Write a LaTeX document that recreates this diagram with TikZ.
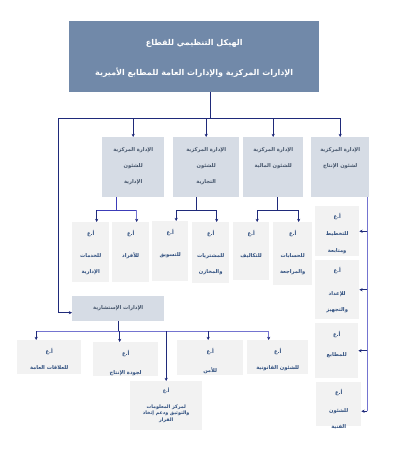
\documentclass[tikz,border=0pt]{standalone}
\usepackage{fontspec}
\usetikzlibrary{arrows.meta}
\TeXXeTstate=1
\newfontfamily\arf[Script=Arabic]{DejaVu Sans}
\newcommand\ar[1]{\leavevmode\beginR#1\endR}
\definecolor{titlefill}{HTML}{7189A9}
\definecolor{lvltwo}{HTML}{D6DCE5}
\definecolor{lvlthree}{HTML}{F2F2F2}
\definecolor{txttwo}{HTML}{44546A}
\definecolor{txtthree}{HTML}{2F4F7F}
\definecolor{navy}{HTML}{1F2A7A}
\definecolor{lav}{HTML}{7474D0}
\definecolor{midblue}{HTML}{3C3CB8}
% name, style, x1, y1, x2, y2, top padding, text
\newcommand\obox[8]{%
  \pgfmathsetmacro\obw{#5-#3}\pgfmathsetmacro\obh{#6-#4}%
  \node[#2,anchor=north west,inner sep=0pt] (#1) at (#3,#4)
    {\parbox[t][\obh pt][t]{\obw pt}{\centering\vspace*{#7pt}#8}};}
\begin{document}
\begin{tikzpicture}[x=1pt,y=-1pt,
  titlebox/.style={fill=titlefill,text=white,font={\arf\bfseries\fontsize{8}{30}\selectfont}},
  lvtwo/.style={fill=lvltwo,text=txttwo,font={\arf\bfseries\fontsize{5.2}{16}\selectfont}},
  lvthree/.style={fill=lvlthree,text=txtthree,font={\arf\bfseries\fontsize{5.2}{16}\selectfont}},
  lvthreetight/.style={fill=lvlthree,text=txtthree,font={\arf\bfseries\fontsize{5.2}{17}\selectfont}},
  lvthreesmall/.style={fill=lvlthree,text=txtthree,font={\arf\bfseries\fontsize{4.8}{6.5}\selectfont}},
  navyline/.style={draw=navy,line width=0.9pt},
  lavline/.style={draw=lav,line width=0.9pt},
  midline/.style={draw=midblue,line width=0.9pt},
  arr/.style={draw=navy,line width=0.9pt,-{Stealth[length=3.2pt,width=3.2pt]}},
  lavarr/.style={draw=lav,line width=0.9pt,-{Stealth[length=3.2pt,width=3.2pt,color=navy]}}]
\fill[white] (0,0) rectangle (402,464);
\useasboundingbox (0,0) rectangle (402,464);

% title
\obox{title}{titlebox}{69}{21}{319}{92}{18}{\ar{الهيكل التنظيمي للقطاع}\\\ar{الإدارات المركزية والإدارات العامة للمطابع الأميرية}}

% central administrations
\obox{b1}{lvtwo}{102}{137}{164}{197}{10}{\ar{الإدارة المركزية}\\\ar{للشئون}\\\ar{الإدارية}}
\obox{b2}{lvtwo}{173}{137}{239}{197}{10}{\ar{الإدارة المركزية}\\\ar{للشئون}\\\ar{التجارية}}
\obox{b3}{lvtwo}{243}{137}{303}{197}{10}{\ar{الإدارة المركزية}\\\ar{للشئون المالية}}
\obox{b4}{lvtwo}{311}{137}{369}{197}{10}{\ar{الإدارة المركزية}\\\ar{لشئون الإنتاج}}

% general administrations, row 3
\obox{c1}{lvthree}{72}{222}{109}{282}{8.5}{\ar{أ.ع}\\[6pt]\ar{للخدمات}\\\ar{الإدارية}}
\obox{c2}{lvthree}{112}{222}{149}{282}{8.5}{\ar{أ.ع}\\[6pt]\ar{للأفراد}}
\obox{c3}{lvthree}{152}{221}{188}{281}{8.5}{\ar{أ.ع}\\[6pt]\ar{للتسويق}}
\obox{c4}{lvthree}{192}{222}{229}{283}{8.5}{\ar{أ.ع}\\[6pt]\ar{للمشتريات}\\\ar{والمخازن}}
\obox{c5}{lvthree}{233}{222}{269}{280}{8.5}{\ar{أ.ع}\\[6pt]\ar{للتكاليف}}
\obox{c6}{lvthree}{273}{222}{312}{285}{8.5}{\ar{أ.ع}\\[6pt]\ar{للحسابات}\\\ar{والمراجعة}}

% right column
\obox{r1}{lvthreetight}{315}{206}{359}{256}{7}{\ar{أ.ع}\\\ar{للتخطيط}\\\ar{ومتابعة}}
\obox{r2}{lvthree}{315}{260}{359}{319}{7}{\ar{أ.ع}\\[7pt]\ar{للإعداد}\\\ar{والتجهيز}}
\obox{r3}{lvthree}{315}{323}{358}{378}{8}{\ar{أ.ع}\\[4pt]\ar{للمطابع}}
\obox{r4}{lvthree}{316}{382}{361}{426}{7}{\ar{أ.ع}\\[2pt]\ar{للشئون}\\\ar{الفنية}}

% advisory
\obox{adv}{lvtwo}{72}{296}{164}{321}{9.5}{\ar{الإدارات الإستشارية}}

% advisory children
\obox{d1}{lvthree}{17}{340}{81}{374}{8}{\ar{أ.ع}\\\ar{للعلاقات العامة}}
\obox{d2}{lvthree}{93}{342}{158}{376}{8}{\ar{أ.ع}\\[3pt]\ar{لجودة الإنتاج}}
\obox{d3}{lvthree}{177}{340}{243}{375}{8}{\ar{أ.ع}\\[3pt]\ar{للأمن}}
\obox{d4}{lvthree}{247}{340}{308}{374}{8}{\ar{أ.ع}\\\ar{للشئون القانونية}}
\obox{d5}{lvthreesmall}{130}{381}{202}{430}{7}{\ar{أ.ع}\\[9pt]\ar{لمركز المعلومات}\\\ar{والتوثيق ودعم إتخاذ}\\\ar{القرار}}

% ---- connectors ----
\coordinate (busL) at (58,118);
\coordinate (stem) at ([xshift=16pt]title.south);
\draw[navyline] (stem) -- (stem |- busL);
\draw[navyline] (busL) -- (b4.north |- busL);
\foreach \n in {b1,b2,b3,b4} \draw[arr] (\n.north |- busL) -- (\n.north);
\draw[arr] (busL) |- ([yshift=-4pt]adv.west);

% children of b1, b2, b3
\coordinate (j1) at (116,210);
\coordinate (j2) at (196,210);
\coordinate (j3) at (277,210);
\foreach \c in {c1,c2,c3,c4,c5,c6} \coordinate (\c t) at ([xshift=6pt]\c.north);
\draw[midline] (b1.south -| j1) -- (j1);
\draw[midline] (c1t |- j1) -- (c2t |- j1);
\draw[arr] (c1t |- j1) -- (c1t);
\draw[lavarr] (c2t |- j1) -- (c2t);
\draw[navyline] (b2.south -| j2) -- (j2);
\draw[navyline] (c3t |- j2) -- (c4t |- j2);
\draw[arr] (c3t |- j2) -- (c3t);
\draw[arr] (c4t |- j2) -- (c4t);
\draw[navyline] (b3.south -| j3) -- (j3);
\draw[navyline] (c5t |- j3) -- (c6t |- j3);
\draw[arr] (c5t |- j3) -- (c5t);
\draw[arr] (c6t |- j3) -- (c6t);

% right vertical line
\coordinate (rv) at ([xshift=-2pt]b4.south east);
\coordinate (r4e) at ([yshift=-7pt]r4.east);
\draw[lavline] (rv) -- (rv |- r4e);
\draw[arr] (rv |- r1.east) -- (r1.east);
\draw[arr] (rv |- r2.east) -- (r2.east);
\draw[arr] (rv |- r3.east) -- (r3.east);
\draw[arr] (rv |- r4e) -- (r4e);

% advisory bus
\coordinate (ab) at (0,331);
\coordinate (d1t) at ([xshift=-13pt]d1.north);
\coordinate (d2t) at ([xshift=-6pt]d2.north);
\coordinate (d3t) at ([xshift=-2pt]d3.north);
\coordinate (d4t) at ([xshift=-9pt]d4.north);
\draw[navyline] (adv.south) -- (adv.south |- ab);
\draw[lavline] (d1t |- ab) -- (d4t |- ab);
\draw[arr] (d1t |- ab) -- (d1t);
\draw[arr] (d2t |- ab) -- (d2t);
\draw[arr] (d3t |- ab) -- (d3t);
\draw[lavarr] (d4t |- ab) -- (d4t);
\draw[arr] (d5.north |- ab) -- (d5.north);
\end{tikzpicture}
\end{document}
